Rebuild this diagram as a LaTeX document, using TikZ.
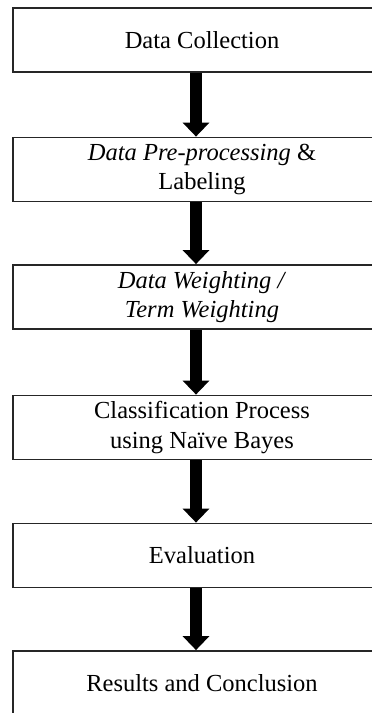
\documentclass[tikz,border=0pt]{standalone}
\usepackage{fontspec}
\setmainfont{Liberation Serif}
\usetikzlibrary{arrows.meta}
\tikzset{
  stage/.style={draw=black!85, line width=1.8pt, fill=white,
    minimum width=378pt, minimum height=64pt, inner sep=0pt,
    align=center, font=\fontsize{24.5}{29.5}\selectfont},
  flow/.style={line width=12pt, -{Triangle[width=26pt,length=14pt]}}
}
\begin{document}
\begin{tikzpicture}[x=1pt,y=-1pt]
  \useasboundingbox (0,0) rectangle (372,713);
  \clip (0,0) rectangle (372,713);
  \fill[white] (0,0) rectangle (372,713);

  % process stages
  \node[stage] (s1) at (202,40)    {Data Collection};
  \node[stage] (s2) at (202,169.5) {\textit{Data Pre-processing} \&\\Labeling};
  \node[stage] (s3) at (202,297)   {\textit{Data Weighting /}\\\textit{Term Weighting}};
  \node[stage] (s4) at (202,427.5) {Classification Process\\using Naïve Bayes};
  \node[stage] (s5) at (202,555.5) {Evaluation};
  \node[stage] (s6) at (202,683)   {Results and Conclusion};

  % flow arrows between stages
  \foreach \a/\b in {s1/s2,s2/s3,s3/s4,s4/s5,s5/s6}
    \draw[flow] ([xshift=-6pt]\a.south) -- ([xshift=-6pt]\b.north);
\end{tikzpicture}
\end{document}
